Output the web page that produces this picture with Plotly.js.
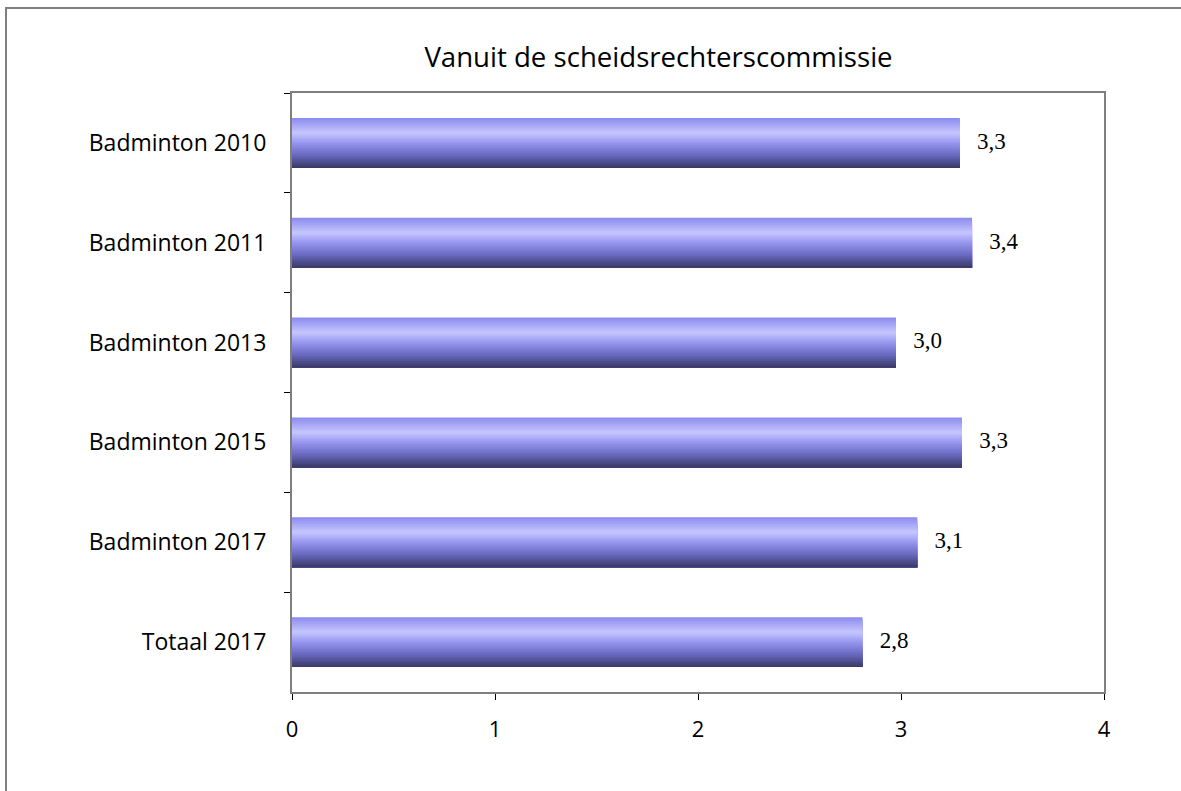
<!DOCTYPE html>
<html>
<head>
<meta charset="utf-8">
<script src="https://cdn.plot.ly/plotly-3.0.1.min.js"></script>
<style>html,body{margin:0;padding:0;background:#fff;}#chart{width:1181px;height:791px;}</style>
</head>
<body>
<div id="chart"></div>
<script>
const categories = ["Badminton 2010", "Badminton 2011", "Badminton 2013", "Badminton 2015", "Badminton 2017", "Totaal 2017"];
const values = [3.29, 3.35, 2.975, 3.30, 3.08, 2.81];
const labels = ["3,3", "3,4", "3,0", "3,3", "3,1", "2,8"];
const xTicks = [0, 1, 2, 3, 4];

// vertical gradient stops (fraction from top of bar -> colour)
const stops = [[0, [138,138,238]], [0.3, [198,198,255]], [0.5, [150,150,240]], [0.75, [104,104,190]], [1, [56,56,100]]];
function colAt(t){
  for (let i=0;i<stops.length-1;i++){
    const [a,ca]=stops[i],[b,cb]=stops[i+1];
    if (t>=a && t<=b){
      const f=(t-a)/(b-a);
      const c=ca.map((v,k)=>Math.round(v+(cb[k]-v)*f));
      return `rgb(${c[0]},${c[1]},${c[2]})`;
    }
  }
  const c=stops[stops.length-1][1];return `rgb(${c[0]},${c[1]},${c[2]})`;
}

const barW = 0.5, N = 30;
const traces = [];
for (let i=0;i<N;i++){
  const start = i*barW/N;
  const w = barW - start;
  traces.push({
    type:'bar', orientation:'h', y:categories, x:values,
    width: w, offset: -barW/2 + start,
    marker:{color: colAt((i+0.5)/N), line:{width:0}},
    hoverinfo:'skip', showlegend:false
  });
}
traces.push({
  type:'scatter', mode:'text', y:categories, x:values, text:labels.map(s=>'   '+s),
  textposition:'middle right', cliponaxis:false,
  textfont:{family:'Liberation Serif, Times New Roman, serif', size:23, color:'#000'},
  hoverinfo:'skip', showlegend:false
});

const layout = {
  width:1181, height:791,
  margin:{l:292, r:77, t:93, b:99},
  paper_bgcolor:'#fff', plot_bgcolor:'#fff',
  barmode:'overlay',
  title:{text:'Vanuit de scheidsrechterscommissie', x:658.5/1181, xanchor:'center', y:1-57/791, yanchor:'middle',
         font:{family:'Open Sans, sans-serif', size:27.6, color:'#000'}},
  font:{family:'Open Sans, sans-serif', color:'#000'},
  xaxis:{range:[0,4], tickvals:xTicks, ticks:'outside', ticklen:6, tickcolor:'#000',
         showgrid:false, zeroline:false, showline:true, linecolor:'#7f7f7f', linewidth:2, mirror:true,
         tickfont:{size:22}, ticklabelstandoff:11, fixedrange:true},
  yaxis:{type:'category', autorange:'reversed', ticks:'outside', ticklen:6, tickcolor:'#000', tickson:'boundaries',
         showgrid:false, zeroline:false, showline:true, linecolor:'#7f7f7f', linewidth:2, mirror:true,
         tickfont:{size:23}, ticklabelstandoff:19, fixedrange:true},
  shapes:[{type:'rect', xref:'paper', yref:'paper', x0:(6-292)/812, x1:2, y0:-1, y1:1+(93-8)/599,
           line:{color:'#7f7f7f', width:2}}]
};
Plotly.newPlot('chart', traces, layout, {displayModeBar:false, staticPlot:true});
</script>
</body>
</html>
